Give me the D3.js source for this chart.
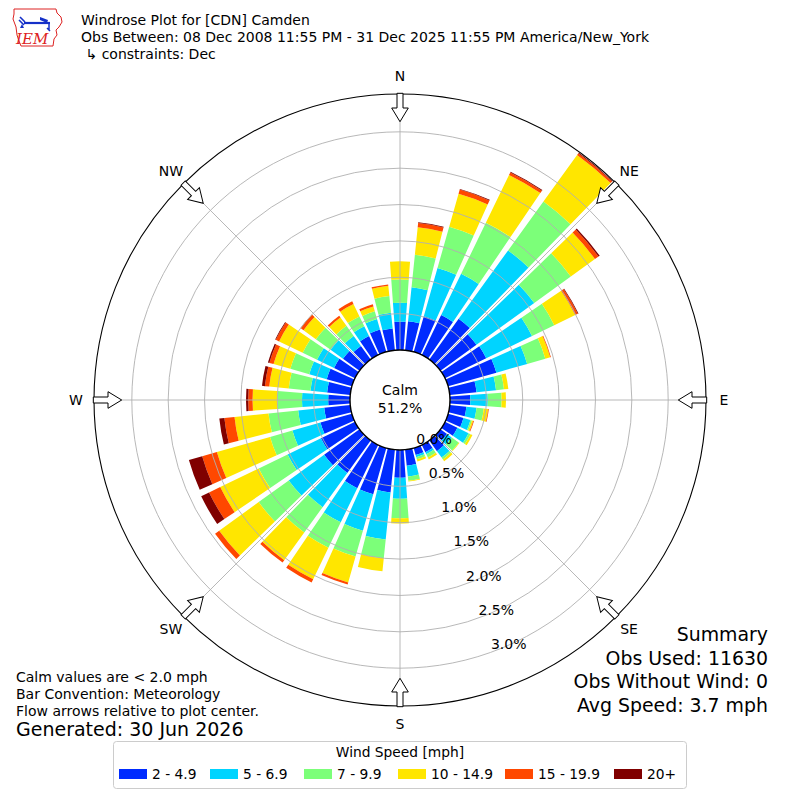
<!DOCTYPE html>
<html>
<head>
<meta charset="utf-8">
<script src="https://cdn.jsdelivr.net/npm/d3@7"></script>
<style>
  body { margin: 0; background: #fff; }
  svg { font-family: "DejaVu Sans", sans-serif; }
</style>
</head>
<body>
<svg id="chart" width="800" height="800"></svg>
<script>
// direction bins (degrees, meteorological) and speed bins
const directions = [0,10,20,30,40,50,60,70,80,90,100,110,120,130,140,150,160,170,
                    180,190,200,210,220,230,240,250,260,270,280,290,300,310,320,330,340,350];
const speedBins = ["2 - 4.9", "5 - 6.9", "7 - 9.9", "10 - 14.9", "15 - 19.9", "20+"];
const speedColors = ["#002bff", "#00d4ff", "#7cff79", "#ffe600", "#ff4800", "#800000"];

// frequency (%) per direction for each speed bin
const spd2 = [0.39,0.40,0.51,0.61,0.69,0.61,0.63,0.69,0.37,0.28,0.23,0.22,0.19,0.11,0.18,0.11,0.10,0.22,
              0.38,0.59,0.66,0.66,0.55,0.60,0.52,0.45,0.36,0.30,0.32,0.36,0.32,0.28,0.23,0.29,0.32,0.30];
const spd5 = [0.26,0.47,0.69,0.63,1.16,0.98,0.70,0.44,0.27,0.24,0.14,0.10,0.17,0.08,0.11,0.03,0.03,0.15,
              0.29,0.65,0.52,0.52,0.58,0.60,0.51,0.40,0.36,0.36,0.23,0.25,0.26,0.21,0.17,0.15,0.15,0.22];
const spd7 = [0.32,0.45,0.59,0.78,0.83,0.62,0.34,0.26,0.11,0.19,0.10,0.02,0.03,0.12,0.03,0.05,0.03,0.06,
              0.27,0.26,0.37,0.39,0.43,0.51,0.44,0.32,0.41,0.34,0.30,0.27,0.22,0.25,0.17,0.15,0.11,0.23];
const spd10 = [0.25,0.38,0.47,0.73,0.79,0.41,0.32,0.07,0.06,0.06,0.06,0.02,0.03,0.01,0.03,0.03,0.03,0.01,
               0.07,0.18,0.37,0.48,0.47,0.67,0.59,0.76,0.47,0.34,0.27,0.24,0.36,0.21,0.14,0.19,0.07,0.14];
const spd15 = [0,0.06,0.06,0.04,0.03,0.06,0.04,0.01,0,0,0.01,0.01,0,0,0,0,0,0,
               0,0,0.03,0.05,0.04,0.07,0.17,0.21,0.14,0.06,0.06,0.06,0.05,0.05,0.03,0.04,0.03,0.02];
const spd20 = [0,0.01,0.01,0.01,0.01,0.02,0.01,0,0,0,0,0,0,0,0,0,0,0,
               0,0,0,0,0,0,0.12,0.19,0.07,0.03,0.04,0.02,0.01,0,0,0,0,0];

const ringTicks = [0, 0.5, 1.0, 1.5, 2.0, 2.5, 3.0];
const compassLabels = ["N", "NE", "E", "SE", "S", "SW", "W", "NW"];
const compassAngles = [0, 45, 90, 135, 180, 225, 270, 315];
const calmPct = 51.2;

const titleLines = [
  "Windrose Plot for [CDN] Camden",
  "Obs Between: 08 Dec 2008 11:55 PM - 31 Dec 2025 11:55 PM America/New_York",
  " \u21b3 constraints: Dec"
];
const summaryLines = ["Summary", "Obs Used: 11630", "Obs Without Wind: 0", "Avg Speed: 3.7 mph"];
const noteLines = ["Calm values are < 2.0 mph", "Bar Convention: Meteorology", "Flow arrows relative to plot center."];

const svg = d3.select("#chart");
const cx = 400, cy = 400;
const calmR = 50, outerR = 306;
const barHalf = 4.15; // half bar width in degrees
const rad = Math.PI / 180;

const rScale = d3.scaleLinear().domain([0, 3.52]).range([calmR, outerR]);

const rows = directions.map((d, i) => ({
  dir: d,
  "2 - 4.9": spd2[i], "5 - 6.9": spd5[i], "7 - 9.9": spd7[i],
  "10 - 14.9": spd10[i], "15 - 19.9": spd15[i], "20+": spd20[i]
}));
const series = d3.stack().keys(speedBins)(rows);

const g = svg.append("g").attr("transform", `translate(${cx},${cy})`);

const arc = d3.arc()
  .innerRadius(d => rScale(d[0]))
  .outerRadius(d => rScale(d[1]))
  .startAngle(d => (d.data.dir - barHalf) * rad)
  .endAngle(d => (d.data.dir + barHalf) * rad);

// stacked bars
series.forEach((s, k) => {
  g.append("g")
    .selectAll("path")
    .data(s.filter(d => d[1] - d[0] > 0))
    .enter()
    .append("path")
    .attr("d", arc)
    .attr("fill", speedColors[k]);
});

// grid on top of bars
g.selectAll(".ring")
  .data(ringTicks.filter(t => t > 0))
  .enter()
  .append("circle")
  .attr("r", d => rScale(d))
  .attr("fill", "none")
  .attr("stroke", "#b0b0b0")
  .attr("stroke-width", 0.9);

g.selectAll(".spoke")
  .data(compassAngles)
  .enter()
  .append("line")
  .attr("x1", d => calmR * Math.sin(d * rad))
  .attr("y1", d => -calmR * Math.cos(d * rad))
  .attr("x2", d => outerR * Math.sin(d * rad))
  .attr("y2", d => -outerR * Math.cos(d * rad))
  .attr("stroke", "#b0b0b0")
  .attr("stroke-width", 0.9);

// outer frame
g.append("circle").attr("r", outerR).attr("fill", "none").attr("stroke", "#000").attr("stroke-width", 1.1);

// calm circle
g.append("circle").attr("r", calmR).attr("fill", "#fff").attr("stroke", "#000").attr("stroke-width", 1.4);
g.append("text").attr("x", 0).attr("y", -10).attr("text-anchor", "middle")
  .attr("dominant-baseline", "central").style("font-size", "14px").text("Calm");
g.append("text").attr("x", 0).attr("y", 7.5).attr("text-anchor", "middle")
  .attr("dominant-baseline", "central").style("font-size", "14px").text(calmPct.toFixed(1) + "%");

// ring labels along a line
g.selectAll(".rlabel")
  .data(ringTicks)
  .enter()
  .append("text")
  .attr("x", d => 17 + rScale(d) * Math.sin(20 * rad))
  .attr("y", d => -8 + rScale(d) * Math.cos(20 * rad))
  .attr("text-anchor", "middle")
  .attr("dominant-baseline", "central")
  .style("font-size", "14px")
  .text(d => d.toFixed(1) + "%");

// inward flow arrows
const arrowPts = [[-3, -306.7], [3, -306.7], [3, -292], [8.3, -292], [0, -278.3], [-8.3, -292], [-3, -292]];
g.selectAll(".arrow")
  .data(compassAngles)
  .enter()
  .append("path")
  .attr("d", d3.line()(arrowPts) + "Z")
  .attr("transform", d => `rotate(${d})`)
  .attr("fill", "#fff")
  .attr("stroke", "#000")
  .attr("stroke-width", 1)
  .attr("stroke-linejoin", "miter");

// compass labels
g.selectAll(".clabel")
  .data(compassAngles)
  .enter()
  .append("text")
  .attr("x", d => 324 * Math.sin(d * rad))
  .attr("y", d => -324 * Math.cos(d * rad))
  .attr("text-anchor", "middle")
  .attr("dominant-baseline", "central")
  .style("font-size", "14px")
  .text((d, i) => compassLabels[i]);

// IEM logo
const logo = svg.append("g");
logo.append("path")
  .attr("d", "M14,9 L56,9 L57,13 L61,17 L62,22 L59,27 L56,30 L57,35 L54,39 L53,46 L21,46 L19,41 L17,35 L16,27 L13,19 L14,14 Z")
  .attr("fill", "none").attr("stroke", "#d22").attr("stroke-width", 1);
logo.append("line").attr("x1", 24).attr("y1", 23).attr("x2", 50).attr("y2", 23)
  .attr("stroke", "#1530c8").attr("stroke-width", 2.2);
logo.append("path").attr("d", "M20,17 L25,22 M19,20 L24,25").attr("stroke", "#1530c8").attr("stroke-width", 1.6).attr("fill", "none");
logo.append("path").attr("d", "M40,17 L48,20 L47,23 L40,20 Z").attr("fill", "#1530c8");
logo.append("path").attr("d", "M49,23 L49,30 M47,28 L50,31").attr("stroke", "#1530c8").attr("stroke-width", 1.5).attr("fill", "none");
logo.append("path").attr("d", "M22,24 L20,28 L24,28 Z").attr("fill", "#1530c8");
logo.append("text").attr("x", 16).attr("y", 44)
  .style("font-family", "'DejaVu Serif', 'Liberation Serif', serif").style("font-style", "italic")
  .style("font-size", "15px").attr("fill", "#d22").text("IEM");

// title block
svg.selectAll(".title")
  .data(titleLines)
  .enter()
  .append("text")
  .attr("x", 81)
  .attr("y", (d, i) => 25 + i * 17)
  .style("font-size", "14px")
  .style("white-space", "pre")
  .text(d => d);

// summary block
svg.selectAll(".summary")
  .data(summaryLines)
  .enter()
  .append("text")
  .attr("x", 768)
  .attr("y", (d, i) => 641 + i * 23.7)
  .attr("text-anchor", "end")
  .style("font-size", "18.9px")
  .text(d => d);

// notes
svg.selectAll(".note")
  .data(noteLines)
  .enter()
  .append("text")
  .attr("x", 16)
  .attr("y", (d, i) => 682 + i * 17)
  .style("font-size", "14px")
  .text(d => d);
svg.append("text").attr("x", 16).attr("y", 736).style("font-size", "19px").text("Generated: 30 Jun 2026");

// legend
const legend = svg.append("g");
legend.append("rect").attr("x", 113.5).attr("y", 741.5).attr("width", 573).attr("height", 47)
  .attr("rx", 3).attr("fill", "#fff").attr("stroke", "#ccc");
legend.append("text").attr("x", 400).attr("y", 757).attr("text-anchor", "middle")
  .style("font-size", "13.8px").text("Wind Speed [mph]");
const legendX = [119, 210, 304, 398, 505, 614];
const items = legend.selectAll(".item")
  .data(speedBins)
  .enter()
  .append("g")
  .attr("transform", (d, i) => `translate(${legendX[i]},769)`);
items.append("rect").attr("width", 28).attr("height", 10).attr("fill", (d, i) => speedColors[i]);
items.append("text").attr("x", 33).attr("y", 9.5).style("font-size", "13.8px").text(d => d);
</script>
</body>
</html>
